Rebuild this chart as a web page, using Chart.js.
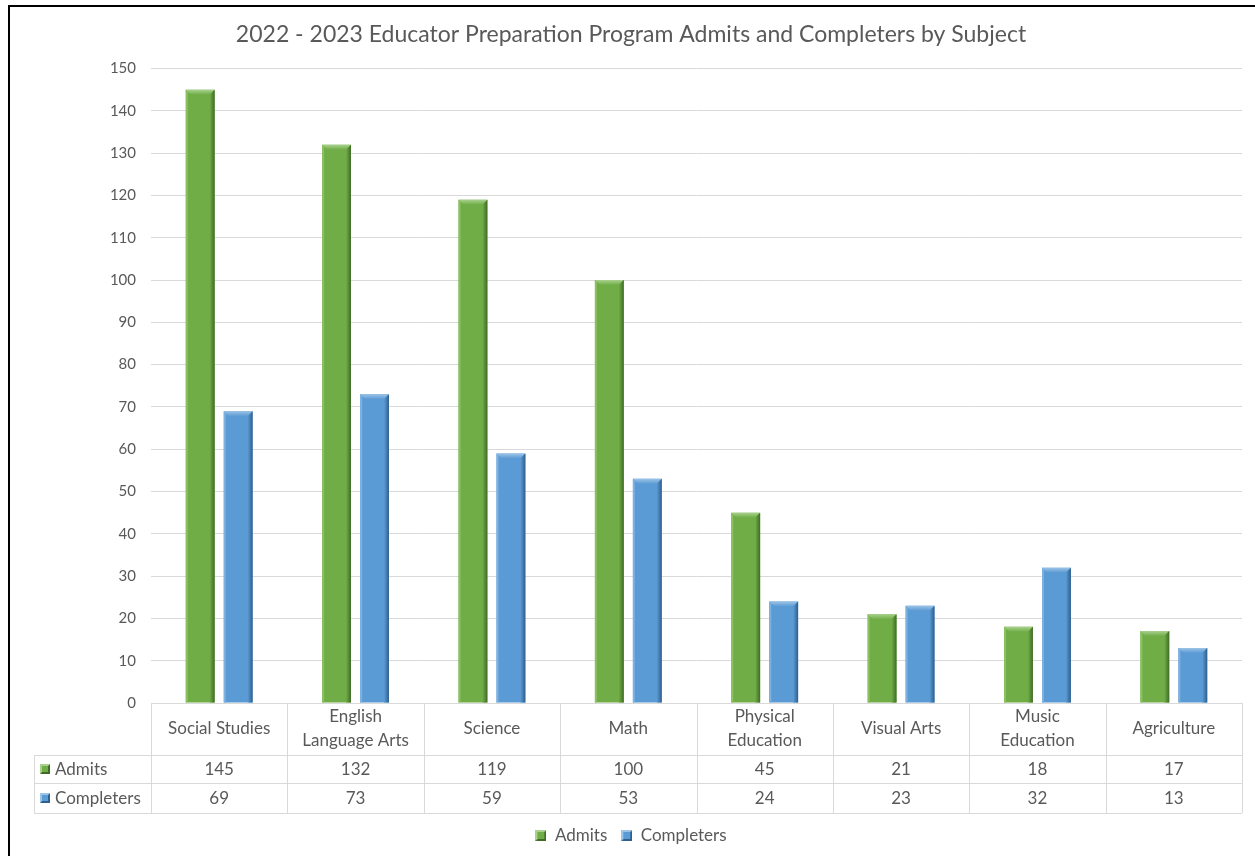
<!DOCTYPE html>
<html>
<head>
<meta charset="utf-8">
<script src="https://cdn.jsdelivr.net/npm/chart.js"></script>
<style>
  html, body { margin: 0; padding: 0; background: #fff; }
  #wrap { position: relative; width: 1255px; height: 856px; }
  #frame { position: absolute; left: 8px; top: 5px; width: 1260px; height: 870px; border: 2px solid #000; box-sizing: border-box; pointer-events: none; }
</style>
</head>
<body>
<div id="wrap">
  <canvas id="chart" width="1255" height="856"></canvas>
  <div id="frame"></div>
</div>
<script>
// subjects along the x axis (table header lines)
const categories = [
  ['Social Studies'],
  ['English', 'Language Arts'],
  ['Science'],
  ['Math'],
  ['Physical', 'Education'],
  ['Visual Arts'],
  ['Music', 'Education'],
  ['Agriculture']
];
const admits = [145, 132, 119, 100, 45, 21, 18, 17];
const completers = [69, 73, 59, 53, 24, 23, 32, 13];
const yMax = 150;
const yStep = 10;

const FONT = 'Lato, "Open Sans", sans-serif';
const TEXT = '#595959';
const LINE = '#d9d9d9';

const seriesStyle = [
  { main: '#70ad47', light: '#a9d18e', side: '#8cc063', dark: '#3f6b26' },
  { main: '#5b9bd5', light: '#9dc3e6', side: '#7db1e0', dark: '#2f5f8c' }
];

function drawBevelSquare(ctx, x, y, s, st) {
  ctx.fillStyle = st.main;
  ctx.fillRect(x, y, s, s);
  ctx.fillStyle = st.dark;
  ctx.beginPath();
  ctx.moveTo(x + s, y); ctx.lineTo(x + s, y + s); ctx.lineTo(x, y + s);
  ctx.lineTo(x + 2, y + s - 2); ctx.lineTo(x + s - 2, y + s - 2); ctx.lineTo(x + s - 2, y + 2);
  ctx.closePath(); ctx.fill();
  ctx.fillStyle = st.light;
  ctx.beginPath();
  ctx.moveTo(x, y); ctx.lineTo(x + s, y); ctx.lineTo(x + s - 2, y + 2); ctx.lineTo(x + 2, y + 2);
  ctx.lineTo(x + 2, y + s - 2); ctx.lineTo(x, y + s);
  ctx.closePath(); ctx.fill();
}

// little bevelled squares used as legend markers
const markers = seriesStyle.map((st) => {
  const c = document.createElement('canvas');
  c.width = 11; c.height = 11;
  drawBevelSquare(c.getContext('2d'), 0, 0, 11, st);
  return c;
});

// bevelled look on each bar, drawn over the element rectangles
const bevelPlugin = {
  id: 'bevel',
  afterDatasetsDraw(chart) {
    const ctx = chart.ctx;
    chart.data.datasets.forEach((ds, di) => {
      const st = seriesStyle[di];
      chart.getDatasetMeta(di).data.forEach((bar) => {
        const l = bar.x - bar.width / 2, r = bar.x + bar.width / 2;
        const t = bar.y, b = bar.base;
        const bv = 5;
        ctx.save();
        // top face
        const g = ctx.createLinearGradient(0, t, 0, t + bv);
        g.addColorStop(0, st.light); g.addColorStop(1, st.main);
        ctx.fillStyle = g;
        ctx.beginPath();
        ctx.moveTo(l, t); ctx.lineTo(r, t); ctx.lineTo(r - bv, t + bv); ctx.lineTo(l + bv, t + bv);
        ctx.closePath(); ctx.fill();
        // right side
        const gr = ctx.createLinearGradient(r - bv, 0, r, 0);
        gr.addColorStop(0, st.main); gr.addColorStop(1, st.dark);
        ctx.fillStyle = gr;
        ctx.beginPath();
        ctx.moveTo(r, t); ctx.lineTo(r, b); ctx.lineTo(r - bv, b); ctx.lineTo(r - bv, t + bv);
        ctx.closePath(); ctx.fill();
        // left side
        ctx.fillStyle = st.side;
        ctx.beginPath();
        ctx.moveTo(l, t); ctx.lineTo(l + 2, t + 2); ctx.lineTo(l + 2, b); ctx.lineTo(l, b);
        ctx.closePath(); ctx.fill();
        ctx.restore();
      });
    });
  }
};

// data table under the plot
const tablePlugin = {
  id: 'dataTable',
  afterDraw(chart) {
    const ctx = chart.ctx;
    const xs = chart.scales.x;
    const area = chart.chartArea;
    const n = categories.length;
    const cw = (area.right - area.left) / n;
    const top = area.bottom;
    const hdr = top + 52, r1 = hdr + 28, r2 = r1 + 30;
    const tableLeft = 34;
    ctx.save();
    ctx.strokeStyle = LINE;
    ctx.lineWidth = 1;
    ctx.beginPath();
    ctx.moveTo(area.left, top + 0.5); ctx.lineTo(area.right, top + 0.5);
    [hdr, r1, r2].forEach((y) => { ctx.moveTo(tableLeft, y + 0.5); ctx.lineTo(area.right, y + 0.5); });
    for (let i = 0; i <= n; i++) {
      const x = Math.round(area.left + i * cw) + 0.5;
      ctx.moveTo(x, top); ctx.lineTo(x, r2);
    }
    ctx.moveTo(tableLeft + 0.5, hdr); ctx.lineTo(tableLeft + 0.5, r2);
    ctx.stroke();

    ctx.fillStyle = TEXT;
    ctx.font = '17px ' + FONT;
    ctx.textAlign = 'center';
    ctx.textBaseline = 'middle';
    categories.forEach((lines, i) => {
      const cx = xs.getPixelForValue(i);
      const mid = (top + hdr) / 2;
      lines.forEach((ln, k) => {
        ctx.fillText(ln, cx, mid + (k - (lines.length - 1) / 2) * 24);
      });
      ctx.fillText(String(admits[i]), cx, (hdr + r1) / 2 + 1);
      ctx.fillText(String(completers[i]), cx, (r1 + r2) / 2 + 1);
    });
    ctx.textAlign = 'left';
    chart.data.datasets.forEach((ds, di) => {
      const y = di === 0 ? (hdr + r1) / 2 : (r1 + r2) / 2;
      drawBevelSquare(ctx, 40, Math.round(y) - 5, 10, seriesStyle[di]);
      ctx.fillStyle = TEXT;
      ctx.fillText(ds.label, 55, y + 1);
    });
    ctx.restore();
  }
};

new Chart(document.getElementById('chart').getContext('2d'), {
  type: 'bar',
  data: {
    labels: categories.map((c) => c.join(' ')),
    datasets: [
      { label: 'Admits', data: admits, backgroundColor: seriesStyle[0].main, pointStyle: markers[0] },
      { label: 'Completers', data: completers, backgroundColor: seriesStyle[1].main, pointStyle: markers[1] }
    ]
  },
  options: {
    responsive: false,
    animation: false,
    categoryPercentage: 0.557,
    barPercentage: 0.76,
    layout: { padding: { left: 20, right: 13, top: 0, bottom: 2 } },
    scales: {
      x: {
        ticks: { display: false },
        grid: { display: false },
        border: { display: false },
        afterFit(scale) { scale.height = 110; }
      },
      y: {
        min: 0,
        max: yMax,
        ticks: { stepSize: yStep, color: TEXT, padding: 15, font: { family: FONT, size: 15 } },
        grid: { color: LINE, drawTicks: false },
        border: { display: false },
        afterFit(scale) { scale.width = 131; }
      }
    },
    plugins: {
      title: {
        display: true,
        text: '2022 - 2023 Educator Preparation Program Admits and Completers by Subject',
        color: TEXT,
        font: { family: FONT, size: 23, weight: 'normal' },
        padding: { top: 21, bottom: 20 }
      },
      legend: {
        position: 'bottom',
        labels: {
          color: TEXT,
          font: { family: FONT, size: 17 },
          usePointStyle: true,
          boxWidth: 11,
          boxHeight: 11,
          padding: 14
        }
      },
      tooltip: { enabled: false }
    }
  },
  plugins: [bevelPlugin, tablePlugin]
});
</script>
</body>
</html>
